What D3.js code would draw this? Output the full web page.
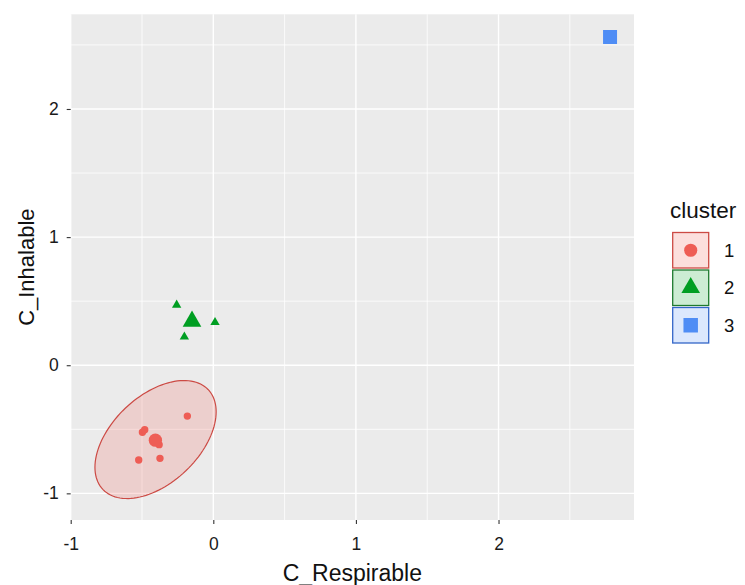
<!DOCTYPE html>
<html>
<head>
<meta charset="utf-8">
<script src="https://cdn.jsdelivr.net/npm/d3@7"></script>
<style>
  html, body { margin: 0; padding: 0; background: #ffffff; }
  svg { display: block; }
  text { font-family: "Liberation Sans", Arial, sans-serif; }
</style>
</head>
<body>
<svg id="chart" width="745" height="585"></svg>
<script>
// ---------- data ----------
const clusterNames = ["1", "2", "3"];
const cluster1X = [-0.182, -0.497, -0.481, -0.523, -0.374, -0.38];
const cluster1Y = [-0.397, -0.523, -0.503, -0.740, -0.727, -0.62];
const cluster2X = [-0.257, 0.012, -0.203];
const cluster2Y = [0.470, 0.335, 0.222];
const cluster3X = [2.782];
const cluster3Y = [2.562];
const ellipseCenter = [-0.405, -0.58];           // cluster 1 ellipse centre
const ellipseShape = [[0.1806, 0.092], [0.092, 0.2122]]; // ellipse shape matrix
const xTicks = [-1, 0, 1, 2];
const yTicks = [-1, 0, 1, 2];
const xMinor = [-0.5, 0.5, 1.5, 2.5];
const yMinor = [-0.5, 0.5, 1.5, 2.5];
const xDomain = [-1.0, 2.95];
const yDomain = [-1.208, 2.739];
const xTitle = "C_Respirable";
const yTitle = "C_Inhalable";
const legendTitle = "cluster";

const colors = ["#EE5D55", "#009E22", "#4F8DF5"];
const strokes = ["#CC4A44", "#1D7A2E", "#3466C8"];

const clusters = [
  { name: "1", xs: cluster1X, ys: cluster1Y },
  { name: "2", xs: cluster2X, ys: cluster2Y },
  { name: "3", xs: cluster3X, ys: cluster3Y }
];

// ---------- layout ----------
const svg = d3.select("#chart");
const x = d3.scaleLinear().domain(xDomain).range([70.7, 634]);
const y = d3.scaleLinear().domain(yDomain).range([520, 14.3]);
const fmt = d => String(d);

// panel
svg.append("rect")
  .attr("x", x.range()[0]).attr("y", y.range()[1])
  .attr("width", x.range()[1] - x.range()[0])
  .attr("height", y.range()[0] - y.range()[1])
  .attr("fill", "#EBEBEB");

const grid = svg.append("g");
grid.selectAll(".xminor").data(xMinor).join("line")
  .attr("x1", d => x(d)).attr("x2", d => x(d))
  .attr("y1", y.range()[0]).attr("y2", y.range()[1])
  .attr("stroke", "#fff").attr("stroke-width", 0.8);
grid.selectAll(".yminor").data(yMinor).join("line")
  .attr("y1", d => y(d)).attr("y2", d => y(d))
  .attr("x1", x.range()[0]).attr("x2", x.range()[1])
  .attr("stroke", "#fff").attr("stroke-width", 0.8);
grid.selectAll(".xmajor").data(xTicks).join("line")
  .attr("x1", d => x(d)).attr("x2", d => x(d))
  .attr("y1", y.range()[0]).attr("y2", y.range()[1])
  .attr("stroke", "#fff").attr("stroke-width", 1.4);
grid.selectAll(".ymajor").data(yTicks).join("line")
  .attr("y1", d => y(d)).attr("y2", d => y(d))
  .attr("x1", x.range()[0]).attr("x2", x.range()[1])
  .attr("stroke", "#fff").attr("stroke-width", 1.4);

// axes
const xAxis = d3.axisBottom(x).tickValues(xTicks).tickSize(4).tickPadding(4).tickFormat(fmt);
const gx = svg.append("g").attr("transform", `translate(0,${y.range()[0]})`).call(xAxis);
gx.select(".domain").remove();
gx.selectAll(".tick line").attr("stroke", "#333").attr("stroke-width", 1.1);
gx.selectAll(".tick text").attr("fill", "#1a1a1a").attr("font-size", 17.5)
  .attr("font-family", "Liberation Sans, Arial, sans-serif").attr("dy", "1.28em");

const yAxis = d3.axisLeft(y).tickValues(yTicks).tickSize(4).tickPadding(8).tickFormat(fmt);
const gy = svg.append("g").attr("transform", `translate(${x.range()[0]},0)`).call(yAxis);
gy.select(".domain").remove();
gy.selectAll(".tick line").attr("stroke", "#333").attr("stroke-width", 1.1);
gy.selectAll(".tick text").attr("fill", "#1a1a1a").attr("font-size", 17.5)
  .attr("font-family", "Liberation Sans, Arial, sans-serif");

// titles
svg.append("text").attr("x", (x.range()[0] + x.range()[1]) / 2).attr("y", 581)
  .attr("text-anchor", "middle").attr("font-size", 23).attr("fill", "#111").text(xTitle);
svg.append("text").attr("transform", `translate(34,${(y.range()[0] + y.range()[1]) / 2}) rotate(-90)`)
  .attr("text-anchor", "middle").attr("font-size", 22).attr("fill", "#111").text(yTitle);

// ---------- ellipse (cluster 1) ----------
const L11 = Math.sqrt(ellipseShape[0][0]);
const L21 = ellipseShape[1][0] / L11;
const L22 = Math.sqrt(ellipseShape[1][1] - L21 * L21);
const ellPts = d3.range(0, 361, 3).map(a => {
  const t = a * Math.PI / 180;
  return [ellipseCenter[0] + L11 * Math.cos(t), ellipseCenter[1] + L21 * Math.cos(t) + L22 * Math.sin(t)];
});
svg.append("path")
  .attr("d", d3.line().x(d => x(d[0])).y(d => y(d[1])).curve(d3.curveLinearClosed)(ellPts))
  .attr("fill", colors[0]).attr("fill-opacity", 0.2)
  .attr("stroke", strokes[0]).attr("stroke-width", 1.2);

// ---------- points ----------
const shapes = [d3.symbolCircle, d3.symbolTriangle, d3.symbolSquare];
const smallSize = [43, 38, 50];
const bigSize = [140, 150, 196];

clusters.forEach((c, i) => {
  const pts = c.xs.map((v, k) => [v, c.ys[k]]);
  svg.append("g").selectAll("path").data(pts).join("path")
    .attr("transform", d => `translate(${x(d[0])},${y(d[1])})`)
    .attr("d", d3.symbol().type(shapes[i]).size(smallSize[i])())
    .attr("fill", colors[i]);
  const center = [d3.mean(c.xs), d3.mean(c.ys)];
  svg.append("path")
    .attr("transform", `translate(${x(center[0])},${y(center[1])})`)
    .attr("d", d3.symbol().type(shapes[i]).size(bigSize[i])())
    .attr("fill", colors[i]);
});

// ---------- legend ----------
const lg = svg.append("g");
lg.append("text").attr("x", 670).attr("y", 218).attr("font-size", 22.5).attr("fill", "#111").text(legendTitle);
const legendSym = [135, 150, 210];
clusterNames.forEach((n, i) => {
  const top = 232.5 + i * 37.5;
  lg.append("rect").attr("x", 672.7).attr("y", top).attr("width", 36).attr("height", 35.5)
    .attr("fill", "#fff");
  lg.append("rect").attr("x", 672.7).attr("y", top).attr("width", 36).attr("height", 35.5)
    .attr("fill", colors[i]).attr("fill-opacity", 0.2)
    .attr("stroke", strokes[i]).attr("stroke-width", 1.3);
  lg.append("path").attr("transform", `translate(690.7,${top + 17.75})`)
    .attr("d", d3.symbol().type(shapes[i]).size(legendSym[i])())
    .attr("fill", colors[i]);
  lg.append("text").attr("x", 724).attr("y", top + 17.75).attr("dy", "0.36em")
    .attr("font-size", 18.5).attr("fill", "#111").text(n);
});
</script>
</body>
</html>
